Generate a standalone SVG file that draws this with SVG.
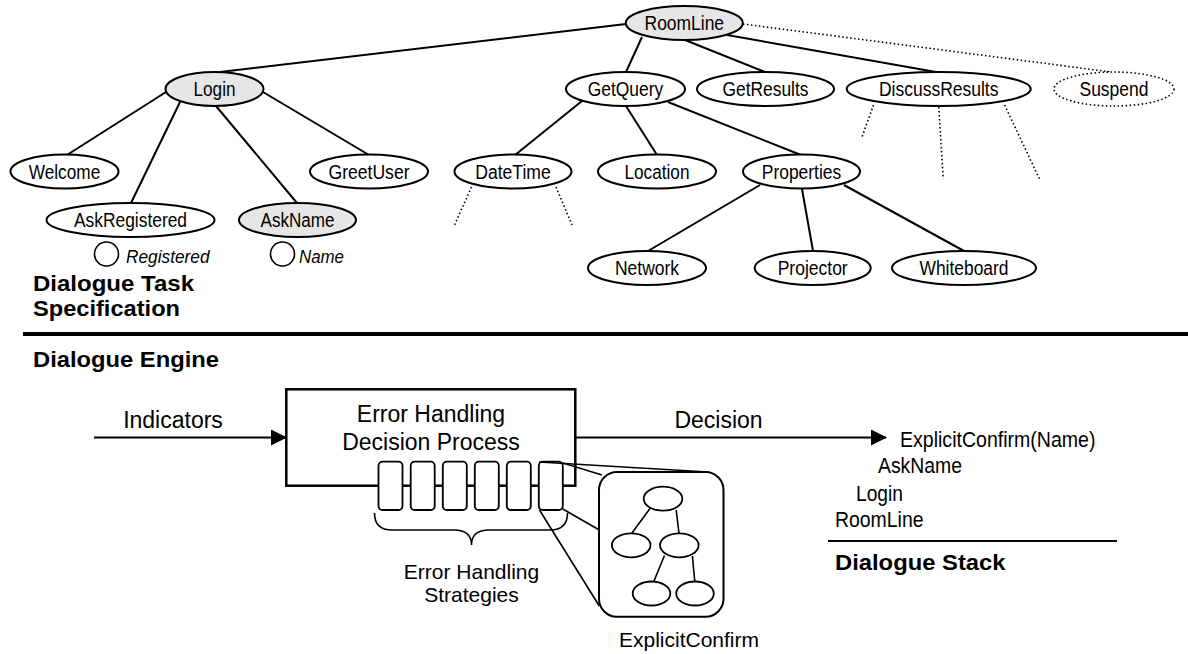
<svg xmlns="http://www.w3.org/2000/svg" width="1188" height="654" viewBox="0 0 1188 654">
  <style>
    .n ellipse { fill: #ffffff; stroke: #000; stroke-width: 2; }
    .n.hl ellipse { fill: #e6e6e6; }
    .n.dot ellipse { stroke-width: 1.6; stroke-dasharray: 1.5 2.5; }
    .n text { font-family: "Liberation Sans", Arial, sans-serif; font-size: 20px; text-anchor: middle; fill: #000; }
    .e line { stroke: #000; stroke-width: 2; }
    .e line.dot { stroke-width: 1.6; stroke-dasharray: 1.5 2.5; }
    .t { font-family: "Liberation Sans", Arial, sans-serif; fill: #000; }
    .b { font-family: "Liberation Sans", Arial, sans-serif; font-weight: bold; font-size: 22.5px; fill: #000; }
    .it { font-family: "Liberation Sans", Arial, sans-serif; font-style: italic; font-size: 18px; fill: #000; }
    .thin { fill: none; stroke: #000; stroke-width: 1.6; }
    .slot { fill: #fff; stroke: #000; stroke-width: 1.8; }
    .mini { fill: #fff; stroke: #000; stroke-width: 1.8; }
  </style>
  <defs>
    <marker id="arrow" viewBox="0 0 16 16" refX="15" refY="8" markerWidth="16" markerHeight="16" markerUnits="userSpaceOnUse" orient="auto">
      <path d="M0,0 L16,8 L0,16 Z" fill="#000"/>
    </marker>
  </defs>

  <!-- task tree connectors -->
  <g id="connectors" class="e">
    <line x1="626" y1="24" x2="220" y2="72"/>
    <line x1="642" y1="37" x2="626" y2="72"/>
    <line x1="685" y1="40" x2="765" y2="72"/>
    <line x1="727" y1="35" x2="936" y2="72"/>
    <line class="dot" x1="743" y1="24" x2="1111" y2="72"/>
    <line x1="166" y1="92" x2="67" y2="155"/>
    <line x1="180" y1="102" x2="131" y2="203"/>
    <line x1="216" y1="106" x2="297" y2="203"/>
    <line x1="263" y1="92" x2="369" y2="155"/>
    <line x1="582" y1="101" x2="515" y2="155"/>
    <line x1="626" y1="106" x2="657" y2="155"/>
    <line x1="668" y1="102" x2="801" y2="155"/>
    <line x1="760" y1="185" x2="648" y2="251"/>
    <line x1="802" y1="189" x2="813" y2="251"/>
    <line x1="844" y1="185" x2="964" y2="251"/>
    <line class="dot" x1="471.5" y1="187" x2="454.5" y2="225"/>
    <line class="dot" x1="556" y1="187" x2="572" y2="225"/>
    <line class="dot" x1="873.5" y1="105" x2="862" y2="137"/>
    <line class="dot" x1="938.7" y1="107" x2="943.3" y2="179"/>
    <line class="dot" x1="1004.6" y1="105" x2="1039.5" y2="179"/>
  </g>

  <!-- task tree nodes -->
  <g id="node-roomline" class="n hl"><ellipse cx="684.3" cy="23" rx="58.5" ry="17"/><text x="684.3" y="30" textLength="79.5" lengthAdjust="spacingAndGlyphs">RoomLine</text></g>
  <g id="node-login" class="n hl"><ellipse cx="214.5" cy="89" rx="49" ry="17"/><text x="214.5" y="96" textLength="42" lengthAdjust="spacingAndGlyphs">Login</text></g>
  <g id="node-getquery" class="n"><ellipse cx="625.5" cy="89" rx="59.5" ry="17"/><text x="625.5" y="96" textLength="75.5" lengthAdjust="spacingAndGlyphs">GetQuery</text></g>
  <g id="node-getresults" class="n"><ellipse cx="765.5" cy="89" rx="68.5" ry="17"/><text x="765.5" y="96" textLength="86" lengthAdjust="spacingAndGlyphs">GetResults</text></g>
  <g id="node-discussresults" class="n"><ellipse cx="938.7" cy="89" rx="92" ry="17"/><text x="938.7" y="96" textLength="119.5" lengthAdjust="spacingAndGlyphs">DiscussResults</text></g>
  <g id="node-suspend" class="n dot"><ellipse cx="1114" cy="89" rx="60" ry="17"/><text x="1114" y="96" textLength="69" lengthAdjust="spacingAndGlyphs">Suspend</text></g>
  <g id="node-welcome" class="n"><ellipse cx="64.5" cy="171.5" rx="54" ry="17"/><text x="64.5" y="178.5" textLength="71.5" lengthAdjust="spacingAndGlyphs">Welcome</text></g>
  <g id="node-greetuser" class="n"><ellipse cx="369" cy="171.5" rx="59" ry="17"/><text x="369" y="178.5" textLength="81" lengthAdjust="spacingAndGlyphs">GreetUser</text></g>
  <g id="node-datetime" class="n"><ellipse cx="513" cy="171.5" rx="58.5" ry="17"/><text x="513" y="178.5" textLength="75.5" lengthAdjust="spacingAndGlyphs">DateTime</text></g>
  <g id="node-location" class="n"><ellipse cx="657" cy="171.5" rx="59" ry="17"/><text x="657" y="178.5" textLength="65" lengthAdjust="spacingAndGlyphs">Location</text></g>
  <g id="node-properties" class="n"><ellipse cx="801.5" cy="171.5" rx="58.5" ry="17"/><text x="801.5" y="178.5" textLength="79.5" lengthAdjust="spacingAndGlyphs">Properties</text></g>
  <g id="node-askregistered" class="n"><ellipse cx="130.5" cy="220" rx="84" ry="17"/><text x="130.5" y="227" textLength="113" lengthAdjust="spacingAndGlyphs">AskRegistered</text></g>
  <g id="node-askname" class="n hl"><ellipse cx="297.5" cy="220" rx="58.5" ry="17"/><text x="297.5" y="227" textLength="74" lengthAdjust="spacingAndGlyphs">AskName</text></g>
  <g id="node-network" class="n"><ellipse cx="647" cy="268" rx="59" ry="17"/><text x="647" y="275" textLength="64" lengthAdjust="spacingAndGlyphs">Network</text></g>
  <g id="node-projector" class="n"><ellipse cx="812.7" cy="268" rx="58" ry="17"/><text x="812.7" y="275" textLength="70" lengthAdjust="spacingAndGlyphs">Projector</text></g>
  <g id="node-whiteboard" class="n"><ellipse cx="964" cy="268" rx="72" ry="17"/><text x="964" y="275" textLength="89" lengthAdjust="spacingAndGlyphs">Whiteboard</text></g>

  <!-- concepts -->
  <g id="concept-registered"><circle class="thin" cx="106.5" cy="254" r="12"/><text class="it" x="126" y="263" textLength="83.5" lengthAdjust="spacingAndGlyphs">Registered</text></g>
  <g id="concept-name"><circle class="thin" cx="282.5" cy="254" r="12"/><text class="it" x="299" y="263" textLength="45" lengthAdjust="spacingAndGlyphs">Name</text></g>

  <g id="title-task">
    <text class="b" x="33" y="291" textLength="161" lengthAdjust="spacingAndGlyphs">Dialogue Task</text>
    <text class="b" x="33" y="315.5" textLength="147" lengthAdjust="spacingAndGlyphs">Specification</text>
  </g>

  <!-- divider -->
  <line x1="23" y1="334" x2="1188" y2="334" stroke="#000" stroke-width="4"/>

  <text class="b" x="33" y="366.5" textLength="186" lengthAdjust="spacingAndGlyphs">Dialogue Engine</text>

  <!-- engine flow -->
  <g id="flow-connectors">
    <line x1="94" y1="437.5" x2="286" y2="437.5" stroke="#000" stroke-width="2" marker-end="url(#arrow)"/>
    <line x1="575" y1="437.5" x2="886" y2="437.5" stroke="#000" stroke-width="2" marker-end="url(#arrow)"/>
    <text class="t" x="173" y="428" font-size="23" text-anchor="middle">Indicators</text>
    <text class="t" x="718.5" y="428" font-size="23" text-anchor="middle">Decision</text>
  </g>

  <g id="decision-process">
    <rect x="286.3" y="389.3" width="289" height="96.4" fill="#fff" stroke="#000" stroke-width="2.5"/>
    <text class="t" x="431" y="422" font-size="23" text-anchor="middle">Error Handling</text>
    <text class="t" x="431" y="450" font-size="23" text-anchor="middle">Decision Process</text>
  </g>

  <g id="strategies">
    <rect class="slot" x="378.5" y="461.7" width="24" height="48.3" rx="4"/>
    <rect class="slot" x="410.7" y="461.7" width="24" height="48.3" rx="4"/>
    <rect class="slot" x="442.8" y="461.7" width="24" height="48.3" rx="4"/>
    <rect class="slot" x="474.8" y="461.7" width="24" height="48.3" rx="4"/>
    <rect class="slot" x="506.8" y="461.7" width="24" height="48.3" rx="4"/>
    <rect class="slot" x="538.8" y="461.7" width="24" height="48.3" rx="4"/>
    <path class="thin" d="M374.5,513 Q374.5,530 392,530 L454,530 Q471.5,530 471.5,545 Q471.5,530 489,530 L550,530 Q567.5,530 567.5,513"/>
    <text class="t" x="471.5" y="579" font-size="21" text-anchor="middle">Error Handling</text>
    <text class="t" x="471.5" y="602" font-size="21" text-anchor="middle">Strategies</text>
  </g>

  <!-- expanded strategy -->
  <g id="explicit-confirm">
    <line class="thin" x1="539" y1="462" x2="708" y2="472"/>
    <line class="thin" x1="562.8" y1="463" x2="602" y2="475"/>
    <line class="thin" x1="562.8" y1="509" x2="599.3" y2="530"/>
    <line class="thin" x1="539.5" y1="510" x2="599.3" y2="606"/>
    <rect x="599" y="472" width="124.5" height="144.7" rx="18" fill="#fff" stroke="#000" stroke-width="2"/>
    <line class="thin" x1="650" y1="508.5" x2="631.6" y2="533.5"/>
    <line class="thin" x1="676.2" y1="510" x2="679" y2="533.5"/>
    <line class="thin" x1="664.5" y1="555.5" x2="653.7" y2="581.7"/>
    <line class="thin" x1="692.4" y1="556" x2="694.8" y2="581.7"/>
    <ellipse class="mini" cx="663" cy="498.7" rx="19.3" ry="12"/>
    <ellipse class="mini" cx="631.2" cy="545.3" rx="19.3" ry="12"/>
    <ellipse class="mini" cx="679.3" cy="545.3" rx="19.3" ry="12"/>
    <ellipse class="mini" cx="651.5" cy="593.5" rx="18.8" ry="12"/>
    <ellipse class="mini" cx="695" cy="593.5" rx="18.8" ry="12"/>
    <text class="t" x="689" y="647" font-size="21" text-anchor="middle">ExplicitConfirm</text>
  </g>

  <!-- stack -->
  <g id="dialogue-stack">
    <text class="t" x="900" y="446.5" font-size="22" textLength="195.5" lengthAdjust="spacingAndGlyphs">ExplicitConfirm(Name)</text>
    <text class="t" x="878" y="472.5" font-size="22" textLength="84" lengthAdjust="spacingAndGlyphs">AskName</text>
    <text class="t" x="856" y="500.8" font-size="22" textLength="47" lengthAdjust="spacingAndGlyphs">Login</text>
    <text class="t" x="835" y="527" font-size="22" textLength="88.5" lengthAdjust="spacingAndGlyphs">RoomLine</text>
    <line x1="828" y1="541" x2="1117" y2="541" stroke="#000" stroke-width="1.8"/>
    <text class="b" x="835" y="570" textLength="170.5" lengthAdjust="spacingAndGlyphs">Dialogue Stack</text>
  </g>
</svg>
